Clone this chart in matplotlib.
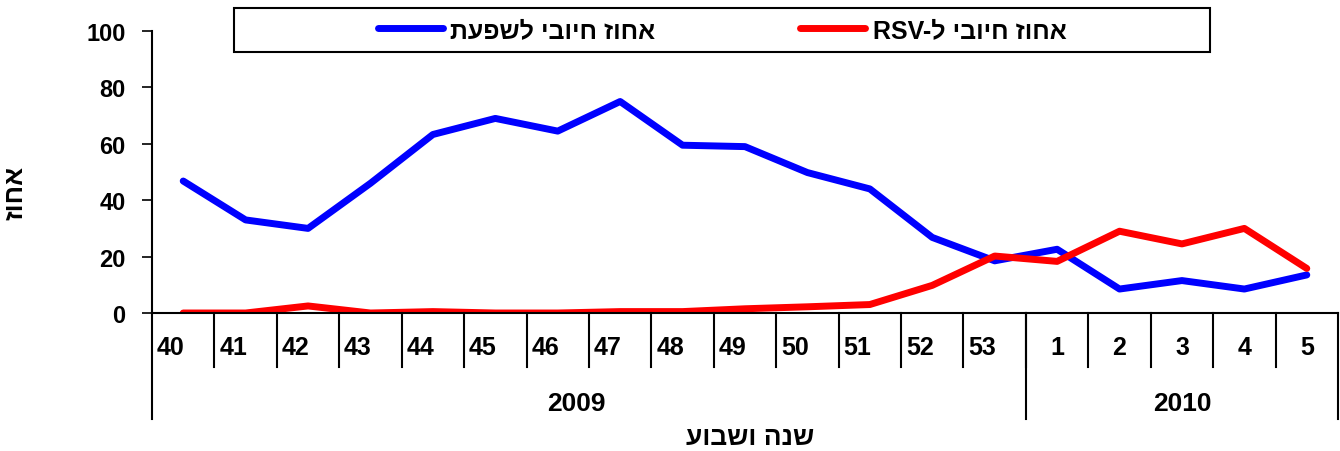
import re
import matplotlib
matplotlib.use('Agg')
import matplotlib.pyplot as plt
import matplotlib.transforms as mtransforms
from matplotlib.patches import Rectangle

plt.rcParams['font.family'] = ['Liberation Sans', 'DejaVu Sans']
plt.rcParams['font.weight'] = 'bold'


def visual(s):
    # matplotlib has no bidi support: flip Hebrew to visual order, keep Latin runs
    r = s[::-1]
    return re.sub(r'[A-Za-z0-9]+', lambda m: m.group(0)[::-1], r)


weeks = ['40', '41', '42', '43', '44', '45', '46', '47', '48', '49', '50', '51', '52', '53',
         '1', '2', '3', '4', '5']
years = ['2009', '2010']
year_counts = [14, 5]
flu = [46.8, 33, 30, 46, 63.3, 69, 64.5, 75, 59.5, 59, 49.8, 44, 26.8, 18.5,
       22.6, 8.5, 11.5, 8.5, 13.5]
rsv = [0, 0, 2.5, 0, 0.5, 0, 0, 0.5, 0.5, 1.5, 2.2, 3, 9.8, 20.2,
       18.3, 29, 24.5, 30, 15.8]
flu_label = 'אחוז חיובי לשפעת'
rsv_label = 'אחוז חיובי ל-RSV'
ylab = 'אחוז'
xlab = 'שנה ושבוע'

fig = plt.figure(figsize=(13.4, 4.52), dpi=100)
ax = fig.add_axes([152/1340, 1-314/452, 1186/1340, 282/452])

x = list(range(len(weeks)))
l1, = ax.plot(x, flu, color='#0000ff', lw=5, solid_capstyle='round', solid_joinstyle='round')
l2, = ax.plot(x, rsv, color='#ff0000', lw=5, solid_capstyle='round', solid_joinstyle='round')

ax.set_xlim(-0.5, len(weeks)-0.5)
ax.set_ylim(0, 100)
ax.set_yticks([0, 20, 40, 60, 80, 100])
ax.tick_params(axis='y', labelsize=17, length=7, width=1.2, pad=12)
for t in ax.get_yticklabels():
    t.set_fontweight('bold')
ax.set_xticks([])
for s in ['top', 'right']:
    ax.spines[s].set_visible(False)
for s in ['left', 'bottom']:
    ax.spines[s].set_linewidth(1.5)

trans = mtransforms.blended_transform_factory(ax.transData, ax.transAxes)
# week labels and separators
for i, w in enumerate(weeks):
    xi = i - 0.2 if len(w) == 2 else i
    ax.text(xi, -0.122, w, transform=trans, ha='center', va='center',
            fontsize=18, fontweight='bold', clip_on=False)
for i in range(len(weeks)-1):
    ax.plot([i+0.5, i+0.5], [0, -0.19], transform=trans, color='black', lw=1.5, clip_on=False)
# year separators and labels
start = 0
bounds = [-0.5]
for y, n in zip(years, year_counts):
    start += n
    bounds.append(start - 0.5)
for b in bounds:
    ax.plot([b, b], [0, -0.376], transform=trans, color='black', lw=1.5, clip_on=False)
pos = [-0.5 + 6.8, 13.5 + 2.5]
for y, p in zip(years, pos):
    ax.text(p, -0.32, y, transform=trans, ha='center', va='center',
            fontsize=19, fontweight='bold', clip_on=False)

ax.set_ylabel(visual(ylab), fontsize=19, fontweight='bold')
ax.yaxis.set_label_coords(-0.105, 0.43)
fig.text(750/1340, 1-438/452, visual(xlab), ha='center', va='center',
         fontsize=19, fontweight='bold')

# legend box
fig.patches.append(Rectangle((234/1340, 1-53/452), 976/1340, 44/452,
                             transform=fig.transFigure, fill=False, ec='black', lw=1.5))
leg = fig.legend([l1, l2], [visual(flu_label), visual(rsv_label)], ncol=2,
                 loc='center', bbox_to_anchor=(722/1340, 1-31/452), frameon=False,
                 prop={'size': 18, 'weight': 'bold'}, handlelength=2.6,
                 handletextpad=0.3, columnspacing=5.8)

fig.savefig('out.png', dpi=100)
